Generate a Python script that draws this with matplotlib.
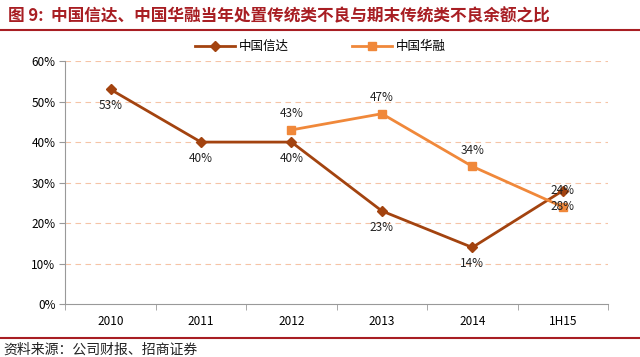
import matplotlib
matplotlib.use("Agg")
import matplotlib.pyplot as plt
import numpy as np

plt.rcParams['font.family'] = ['Noto Sans CJK SC', 'DejaVu Sans']

years = ['2010', '2011', '2012', '2013', '2014', '1H15']
xinda = [53, 40, 40, 23, 14, 28]
huarong = [None, None, 43, 47, 34, 24]

c_xinda = '#A3430F'
c_huarong = '#F0883A'
c_red = '#A81E23'

fig = plt.figure(figsize=(6.4, 3.57), dpi=100)
ax = fig.add_axes([0.102, 0.148, 0.848, 0.681])

x = np.arange(len(years))
ax.plot(x, xinda, color=c_xinda, lw=2, marker='D', ms=5, label='中国信达')
hx = [i for i, v in enumerate(huarong) if v is not None]
hv = [v for v in huarong if v is not None]
ax.plot(hx, hv, color=c_huarong, lw=2, marker='s', ms=6, label='中国华融')

for i, v in enumerate(xinda):
    ax.annotate('%d%%' % v, (i, v), xytext=(0, -7), textcoords='offset points',
                ha='center', va='top', fontsize=8.5, color='#222222')
for i, v in zip(hx, hv):
    ax.annotate('%d%%' % v, (i, v), xytext=(0, 7), textcoords='offset points',
                ha='center', va='bottom', fontsize=8.5, color='#222222')

ax.set_xlim(-0.5, len(years) - 0.5)
ax.set_ylim(0, 60)
ax.set_yticks(range(0, 61, 10))
ax.set_yticklabels(['%d%%' % t for t in range(0, 61, 10)], fontsize=8.5)
ax.set_xticks(x)
ax.set_xticklabels(years, fontsize=8.5)
ax.set_xticks(np.arange(-0.5, len(years), 1), minor=True)
ax.tick_params(axis='x', which='major', length=0, pad=8)
ax.tick_params(axis='x', which='minor', length=4, color='#999999')
ax.tick_params(axis='y', length=4, color='#999999', pad=3)

for t in range(10, 61, 10):
    ax.axhline(t, color='#F5C4A6', lw=0.8, ls=(0, (5, 4)), zorder=0)

for s in ['top', 'right']:
    ax.spines[s].set_visible(False)
ax.spines['left'].set_color('#999999')
ax.spines['bottom'].set_color('#999999')

ax.legend(loc='center', bbox_to_anchor=(0.47, 1.06), ncol=2, frameon=False,
          fontsize=9, columnspacing=5, handlelength=3.2, handletextpad=0.3)

fig.text(0.012, 0.955, '图 9:  中国信达、中国华融当年处置传统类不良与期末传统类不良余额之比',
         fontsize=12, fontweight='bold', color=c_red, va='center')
fig.add_artist(plt.Line2D([0, 1], [0.915, 0.915], color=c_red, lw=1.5))
fig.add_artist(plt.Line2D([0, 1], [0.053, 0.053], color=c_red, lw=1.5))
fig.text(0.005, 0.02, '资料来源：公司财报、招商证券', fontsize=10, color='#222222', va='center')

fig.savefig('out.png', dpi=100)
